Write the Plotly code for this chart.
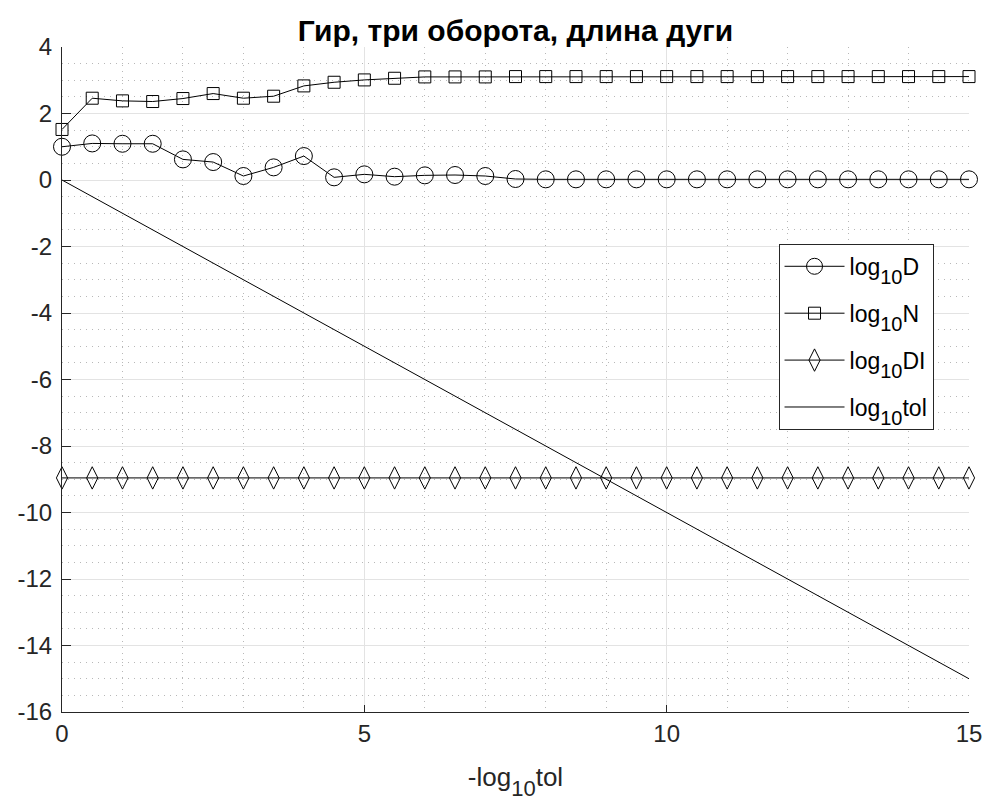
import plotly.graph_objects as go

# -log10(tol) sweep
x_vals = [i * 0.5 for i in range(31)]

log_D = [1.00, 1.10, 1.09, 1.09, 0.62, 0.54, 0.12, 0.38, 0.72, 0.08,
         0.17, 0.10, 0.14, 0.15, 0.12, 0.03, 0.02, 0.02, 0.02, 0.02,
         0.02, 0.02, 0.02, 0.02, 0.02, 0.02, 0.02, 0.02, 0.02, 0.02, 0.02]
log_N = [1.52, 2.46, 2.38, 2.36, 2.45, 2.60, 2.46, 2.52, 2.83, 2.94,
         3.01, 3.06, 3.10, 3.10, 3.10, 3.11, 3.11, 3.11, 3.11, 3.11,
         3.11, 3.11, 3.11, 3.11, 3.11, 3.11, 3.11, 3.11, 3.11, 3.11, 3.11]
log_DI = [-8.96] * 31
log_tol = [-v for v in x_vals]

x_ticks = [0, 5, 10, 15]
y_ticks = [-16, -14, -12, -10, -8, -6, -4, -2, 0, 2, 4]
# plain hyphen-minus labels
x_labels = [str(v) for v in x_ticks]
y_labels = [str(v) for v in y_ticks]

FONT = "Liberation Sans, Arial, sans-serif"
INK = "#262626"


def log10_label(suffix, sub_px):
    return ("log<sub><span style='font-size:%dpx;baseline-shift:-4px'>10</span></sub>%s"
            % (sub_px, suffix))


fig = go.Figure()
line = dict(color="black", width=1)
fig.add_trace(go.Scatter(x=x_vals, y=log_D, mode="lines+markers", name=log10_label("D", 20),
                         legendgroup="d", line=line, cliponaxis=False,
                         marker=dict(symbol="circle-open", size=17, color="black", line=dict(width=1))))
fig.add_trace(go.Scatter(x=x_vals, y=log_N, mode="lines+markers", name=log10_label("N", 20),
                         legendgroup="n", line=line, cliponaxis=False,
                         marker=dict(symbol="square-open", size=12, color="black", line=dict(width=1))))
fig.add_trace(go.Scatter(x=x_vals, y=log_DI, mode="lines+markers", name=log10_label("DI", 20),
                         legendgroup="di", line=line, cliponaxis=False,
                         marker=dict(symbol="diamond-tall-open", size=16, color="black", line=dict(width=1))))
fig.add_trace(go.Scatter(x=x_vals, y=log_tol, mode="lines", name=log10_label("tol", 20),
                         legendgroup="tol", line=line))

fig.update_layout(
    width=988, height=807,
    margin=dict(l=62, r=19, t=47, b=95),
    paper_bgcolor="white", plot_bgcolor="white",
    font=dict(family=FONT, size=23, color=INK),
    title=dict(text="<b>Гир, три оборота, длина дуги</b>", x=0.5, xref="paper",
               y=1 - 30 / 807, yref="container", xanchor="center", yanchor="middle",
               font=dict(family=FONT, size=30, color="black")),
    legend=dict(x=0.79, y=0.704, xanchor="left", yanchor="top",
                bordercolor=INK, borderwidth=1, bgcolor="white",
                traceorder="grouped", tracegroupgap=14, itemwidth=60,
                font=dict(family=FONT, size=23, color="black")),
    showlegend=True,
)

fig.update_xaxes(
    range=[0, 15], tickvals=x_ticks, ticktext=x_labels, ticks="inside", ticklen=7, tickcolor=INK,
    showline=True, linecolor=INK, linewidth=1, zeroline=False, automargin=False,
    showgrid=True, gridcolor="#e3e3e3", gridwidth=1,
    minor=dict(dtick=1, showgrid=True, griddash="1px,5px", gridcolor="#b8b8b8", gridwidth=1, ticks=""),
    title=dict(text="-log<sub><span style='font-size:22px;baseline-shift:-4px'>10</span></sub>tol",
               font=dict(family=FONT, size=26, color=INK), standoff=22),
    tickfont=dict(family=FONT, size=24, color=INK),
)
fig.update_yaxes(
    range=[-16, 4], tickvals=y_ticks, ticktext=y_labels, ticks="inside", ticklen=9, tickcolor=INK,
    showline=True, linecolor=INK, linewidth=1, zeroline=False, automargin=False,
    showgrid=True, gridcolor="#e3e3e3", gridwidth=1,
    minor=dict(dtick=0.5, showgrid=True, griddash="1px,5px", gridcolor="#b8b8b8", gridwidth=1, ticks=""),
    tickfont=dict(family=FONT, size=24, color=INK),
    ticklabelstandoff=4,
)

fig.write_html("out.html")
